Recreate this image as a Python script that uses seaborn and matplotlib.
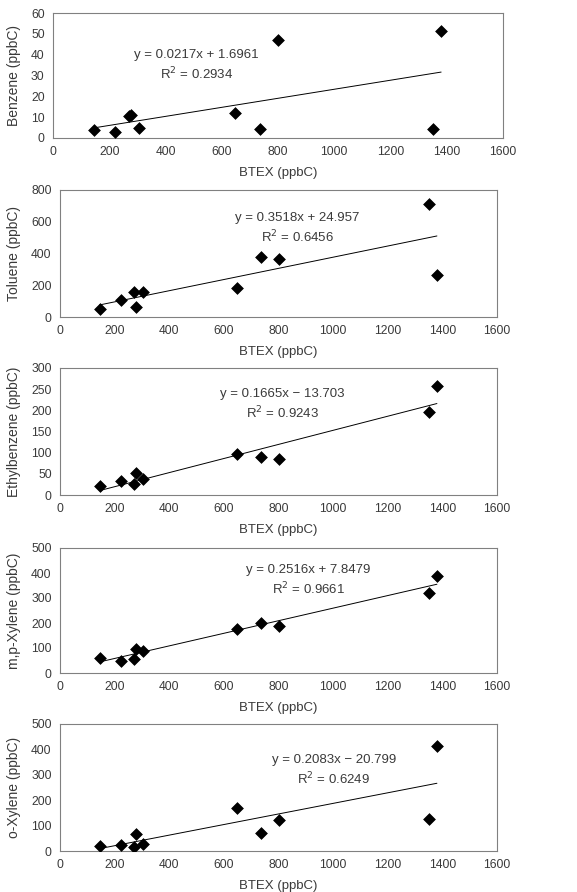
"""
Dispersión de cada compuesto frente a BTEX total con su recta de ajuste.
"""

import numpy as np
import pandas as pd
import matplotlib
matplotlib.use('Agg')
import matplotlib.pyplot as plt
import seaborn as sns

# Datos
btex = [145, 222, 270, 278, 305, 648, 737, 800, 1352, 1380]
benzene = [4, 3, 10.5, 11, 5, 12, 4.5, 47, 4.5, 51.5]
toluene = [48, 108, 160, 60, 155, 183, 375, 368, 710, 262]
ethylbenzene = [21, 33, 27, 53, 38, 98, 90, 85, 195, 258]
mp_xylene = [60, 50, 55, 95, 88, 178, 200, 187, 320, 390]
o_xylene = [18, 22, 17, 65, 28, 170, 70, 122, 127, 415]

labels = ['Benzene (ppbC)', 'Toluene (ppbC)', 'Ethylbenzene (ppbC)',
          'm,p-Xylene (ppbC)', 'o-Xylene (ppbC)']
slopes = [0.0217, 0.3518, 0.1665, 0.2516, 0.2083]
intercepts = [1.6961, 24.957, -13.703, 7.8479, -20.799]
r2_values = [0.2934, 0.6456, 0.9243, 0.9661, 0.6249]
y_max = [60, 800, 300, 500, 500]
y_step = [10, 200, 50, 100, 100]

sns.set_style("white")
plt.rcParams['font.family'] = ['Liberation Sans', 'DejaVu Sans']

TEXT = '#3a3a3a'
SPINE = '#808080'

W, H = 577, 892
# (izquierda, arriba, derecha, abajo) en píxeles
boxes = [(53, 13, 503, 138), (60, 190, 497, 317), (60, 368, 497, 495),
         (60, 548, 497, 673), (60, 724, 497, 851)]
# posición de la ecuación (x, y de la ecuación, y del R²) en datos
eq_pos = [(510, 40, 30.7), (870, 622, 506), (813, 238, 193),
          (910, 412, 336), (1003, 358, 283)]

series = [benzene, toluene, ethylbenzene, mp_xylene, o_xylene]

fig = plt.figure(figsize=(W / 100, H / 100), dpi=100)

for i, ys in enumerate(series):
    l, t, r, b = boxes[i]
    ax = fig.add_axes([l / W, 1 - b / H, (r - l) / W, (b - t) / H])
    df = pd.DataFrame({'x': btex, 'y': ys})

    sns.scatterplot(data=df, x='x', y='y', marker='D', color='black',
                    s=36, edgecolor='black', linewidth=0.5, ax=ax, zorder=3)

    # Recta de tendencia con los coeficientes de la figura
    xl = np.array([min(btex), max(btex)])
    ax.plot(xl, slopes[i] * xl + intercepts[i], color='black', lw=0.7)

    sign = '+' if intercepts[i] >= 0 else '−'
    ex, ey, er = eq_pos[i]
    ax.text(ex, ey, f'y = {slopes[i]:.4f}x {sign} {abs(intercepts[i]):g}',
            ha='center', va='center', fontsize=9.5, color=TEXT)
    ax.text(ex, er, f'R$^2$ = {r2_values[i]:.4f}',
            ha='center', va='center', fontsize=9.5, color=TEXT)

    ax.set_xlim(0, 1600)
    ax.set_ylim(0, y_max[i])
    ax.set_xticks(range(0, 1601, 200))
    ax.set_yticks(range(0, y_max[i] + 1, y_step[i]))
    ax.tick_params(axis='both', direction='in', length=3, width=0.7,
                   color=SPINE, labelsize=8.7, labelcolor=TEXT, pad=6)
    ax.set_xlabel('BTEX (ppbC)', fontsize=9.5, color=TEXT)
    ax.set_ylabel(labels[i], fontsize=10, color=TEXT)
    ax.xaxis.set_label_coords(0.5, -29 / (b - t))
    ax.yaxis.set_label_coords((14 - l) / (r - l), 0.5)
    ax.yaxis.label.set_va('center')
    for s in ax.spines.values():
        s.set_color(SPINE)
        s.set_linewidth(0.8)

plt.savefig('out.png', dpi=100)
plt.close()
